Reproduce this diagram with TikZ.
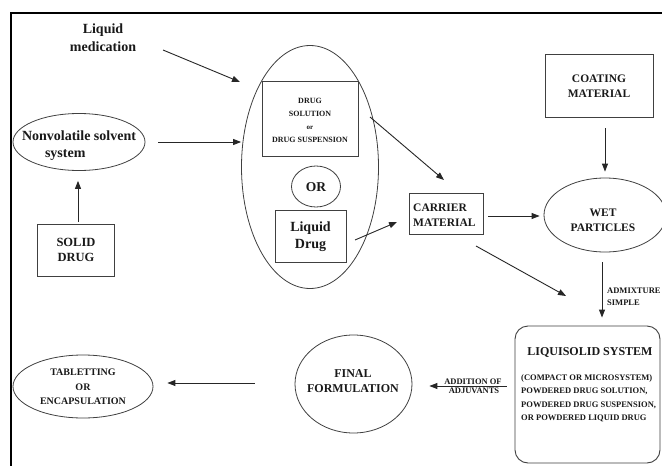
\documentclass[tikz,border=0pt]{standalone}
\usepackage{fontspec}
\setmainfont{Liberation Serif}
\usetikzlibrary{arrows.meta,shapes.geometric}
\newcommand\fz[2]{\fontsize{#1}{#2}\selectfont}
\begin{document}
\begin{tikzpicture}[x=1pt,y=-1pt,
  box/.style={draw=black!75,line width=0.9pt,inner sep=0pt},
  ell/.style={draw=black!75,line width=0.8pt,ellipse,inner sep=0pt},
  arr/.style={draw=black!85,line width=0.9pt,-{Triangle[length=8pt,width=6pt]}},
  txt/.style={inner sep=0pt,font=\bfseries,align=center,text=black!90}]
\useasboundingbox (0,0) rectangle (662,466);
\fill[white] (0,0) rectangle (662,466);
\draw[line width=2pt] (11,466) -- (11,13) -- (662,13);

% left column
\node[txt,font=\bfseries\fz{14}{18}] (lm) at (103,38) {Liquid\\medication};
\node[ell,minimum width=132pt,minimum height=57pt] (nv) at (79,142) {};
\node[txt,font=\bfseries\fz{14}{17},align=left] (nvt) at (79,146) {Nonvolatile solvent\\\hspace*{23pt}system};
\node[box,minimum width=77pt,minimum height=52pt] (sd) at (76,250) {};
\node[txt,font=\bfseries\fz{12.5}{15}] (sdt) at (76,250) {SOLID\\DRUG};

% big ellipse group
\node[ell,minimum width=137pt,minimum height=243pt] (big) at (310,167) {};
\node[box,minimum width=96pt,minimum height=75pt] (sol) at (310,118.5) {};
\node[txt,font=\bfseries\fz{8}{13}] (solt) at (310,120) {DRUG\\SOLUTION\\{\fz{7}{13}or}\\DRUG SUSPENSION};
\node[ell,minimum width=49pt,minimum height=41pt] (or) at (316,186.5) {};
\node[txt,font=\bfseries\fz{13.5}{16}] (ort) at (316,187) {OR};
\node[box,minimum width=71pt,minimum height=52pt] (ld) at (310.5,236) {};
\node[txt,font=\bfseries\fz{14}{17}] (ldt) at (310.5,237) {Liquid\\Drug};

% right part
\node[box,minimum width=74pt,minimum height=41pt] (car) at (446,213.5) {};
\node[txt,font=\bfseries\fz{11.5}{15},align=left,anchor=west] (cart) at (413,215) {CARRIER\\MATERIAL};
\node[box,minimum width=108pt,minimum height=63pt] (coat) at (599,85.5) {};
\node[txt,font=\bfseries\fz{11.5}{15}] (coatt) at (599,86) {COATING\\MATERIAL};
\node[ell,minimum width=122pt,minimum height=74pt] (wet) at (605,215) {};
\node[txt,font=\bfseries\fz{11.5}{15}] (wett) at (603,220) {WET\\PARTICLES};
\node[box,rounded corners=13pt,minimum width=145pt,minimum height=137pt] (liq) at (587.5,394.5) {};
\node[txt,font=\bfseries\fz{12}{14}] (liqt) at (590,352) {LIQUISOLID SYSTEM};
\node[txt,font=\bfseries\fz{8.5}{13.5},align=left,anchor=north west] (liqb) at (521,374) {(COMPACT OR MICROSYSTEM)\\POWDERED DRUG SOLUTION,\\POWDERED DRUG SUSPENSION,\\OR POWDERED LIQUID DRUG};
\node[ell,minimum width=117pt,minimum height=98pt] (fin) at (353.5,384) {};
\node[txt,font=\bfseries\fz{12}{15}] (fint) at (353,381) {FINAL\\FORMULATION};
\node[ell,minimum width=140pt,minimum height=63pt] (tab) at (83,386.5) {};
\node[txt,font=\bfseries\fz{10}{14.5}] (tabt) at (83,387) {TABLETTING\\OR\\ENCAPSULATION};

% labels
\node[txt,font=\bfseries\fz{8.5}{12},align=left,anchor=west] (adm) at (607,297) {ADMIXTURE\\SIMPLE};
\node[txt,font=\bfseries\fz{8.5}{12},anchor=south] (add) at (473,385) {ADDITION OF};
\node[txt,font=\bfseries\fz{8.5}{12},anchor=north] (adj) at (474,388) {ADJUVANTS};

% connectors
\coordinate (lmS) at (163,50);
\coordinate (lmE) at (240,82);
\draw[arr] (lmS) -- (lmE);
\draw[arr,shorten <=13pt] (nv.east) -- (nv.east -| big.west);
\draw[arr,shorten <=2pt,shorten >=10pt] (sd.north -| 78,0) -- (nv.south -| 78,0);
\coordinate (solS) at (370,117);
\coordinate (carN) at (444,180);
\draw[arr] (solS) -- (carN);
\coordinate (ldS) at (355,240);
\coordinate (carW) at (397,222);
\draw[arr] (ldS) -- (carW);
\draw[arr,shorten <=5pt,shorten >=4pt] (car.east |- 0,216) -- (wet.west |- 0,216);
\draw[arr,shorten <=11pt,shorten >=6pt] (coat.south -| wet.north) -- (wet.north);
\coordinate (carS) at (476,246);
\coordinate (liqN) at (566,296);
\draw[arr] (carS) -- (liqN);
\draw[arr,shorten <=10pt,shorten >=8pt] (wet.south -| 602,0) -- (liq.north -| 602,0);
\draw[arr,shorten <=8pt,shorten >=17pt] (liq.west |- 0,386) -- (fin.east |- 0,386);
\draw[arr,shorten <=40pt,shorten >=14pt] (fin.west |- 0,383) -- (tab.east |- 0,383);
\end{tikzpicture}
\end{document}
